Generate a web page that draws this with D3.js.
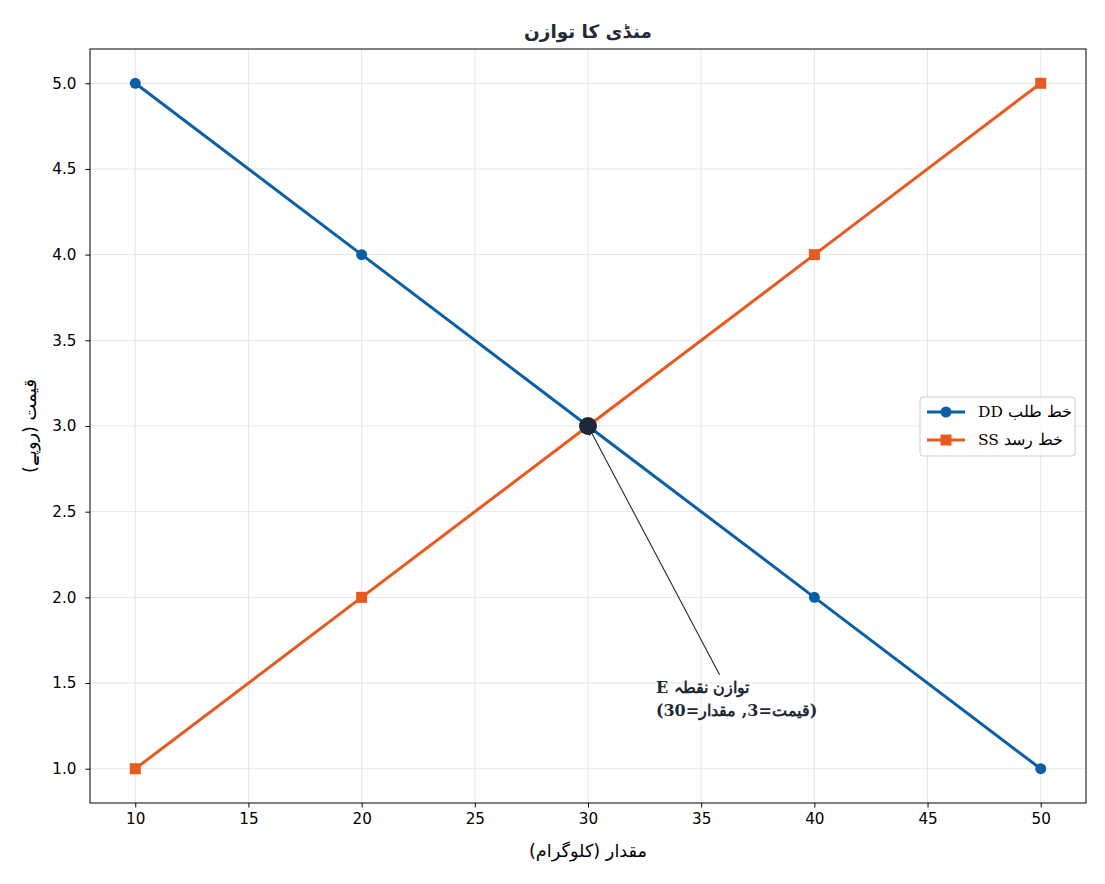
<!DOCTYPE html>
<html><head><meta charset="utf-8">
<script src="https://cdn.jsdelivr.net/npm/d3@7"></script>
<style>
body{margin:0;background:#fff;}
svg{display:block;}
</style></head>
<body>
<svg id="chart" width="1105" height="884"></svg>
<script>
const quantity = [10, 20, 30, 40, 50];
const demandPrice = [5, 4, 3, 2, 1];
const supplyPrice = [1, 2, 3, 4, 5];
const equilibriumQ = 30, equilibriumP = 3;
const xTicks = [10, 15, 20, 25, 30, 35, 40, 45, 50];
const yTicks = [1.0, 1.5, 2.0, 2.5, 3.0, 3.5, 4.0, 4.5, 5.0];
const titleText = "منڈی کا توازن";
const xLabelText = "مقدار (کلوگرام)";
const yLabelText = "قیمت (روپے)";
const demandLabel = "خط طلب DD";
const supplyLabel = "خط رسد SS";
const annLine1 = "توازن نقطہ E";
const annLine2 = "(قیمت=3, مقدار=30)";
const annXY = [33, 1.4];

const W = 1105, H = 884;
const m = {left: 90, right: 1086, top: 49, bottom: 803};
const svg = d3.select("#chart");
const x = d3.scaleLinear().domain([8, 52]).range([m.left, m.right]);
const y = d3.scaleLinear().domain([0.8, 5.2]).range([m.bottom, m.top]);

const blue = "#0b5fa5", orange = "#e8591f", dark = "#1e2838";

// right-to-left text placed by its left edge (uses middle anchor, which is direction-neutral)
function rtlText(parent, s, leftX, py, style) {
  const t = parent.append("text").attr("y", py).attr("direction", "rtl")
    .style("direction", "rtl").style("unicode-bidi", "embed").text(s);
  Object.entries(style).forEach(([k, v]) => t.attr(k, v));
  const w = t.node().getComputedTextLength();
  t.attr("text-anchor", "middle").attr("x", leftX + w / 2);
  return t;
}
function rtlCentered(parent, s, cx, py, style) {
  const t = parent.append("text").attr("x", cx).attr("y", py).attr("text-anchor", "middle")
    .attr("direction", "rtl").style("direction", "rtl").style("unicode-bidi", "embed").text(s);
  Object.entries(style).forEach(([k, v]) => t.attr(k, v));
  return t;
}

// grid
svg.append("g").selectAll("line").data(xTicks).join("line")
  .attr("x1", d => x(d)).attr("x2", d => x(d)).attr("y1", m.top).attr("y2", m.bottom)
  .attr("stroke", "#e6e6e6").attr("stroke-width", 1);
svg.append("g").selectAll("line").data(yTicks).join("line")
  .attr("y1", d => y(d)).attr("y2", d => y(d)).attr("x1", m.left).attr("x2", m.right)
  .attr("stroke", "#e6e6e6").attr("stroke-width", 1);

// axes
const xAxis = svg.append("g").attr("transform", `translate(0,${m.bottom})`)
  .call(d3.axisBottom(x).tickValues(xTicks).tickFormat(d3.format("d")).tickSizeOuter(0).tickSize(4.5).tickPadding(6));
const yAxis = svg.append("g").attr("transform", `translate(${m.left},0)`)
  .call(d3.axisLeft(y).tickValues(yTicks).tickFormat(d3.format(".1f")).tickSizeOuter(0).tickSize(4.5).tickPadding(9));
[xAxis, yAxis].forEach(g => {
  g.select(".domain").remove();
  g.selectAll("text").attr("font-family", "DejaVu Sans").attr("font-size", 15.2).attr("fill", "#000");
  g.selectAll("line").attr("stroke", "#000");
});
svg.append("rect").attr("x", m.left).attr("y", m.top).attr("width", m.right - m.left).attr("height", m.bottom - m.top)
  .attr("fill", "none").attr("stroke", "#000").attr("stroke-width", 1);

// lines
const line = d3.line().x(d => x(d[0])).y(d => y(d[1]));
const demand = quantity.map((q, i) => [q, demandPrice[i]]);
const supply = quantity.map((q, i) => [q, supplyPrice[i]]);
svg.append("path").datum(demand).attr("d", line).attr("fill", "none").attr("stroke", blue).attr("stroke-width", 3);
svg.append("path").datum(supply).attr("d", line).attr("fill", "none").attr("stroke", orange).attr("stroke-width", 3);
svg.append("g").selectAll("circle").data(demand).join("circle")
  .attr("cx", d => x(d[0])).attr("cy", d => y(d[1])).attr("r", 5.5).attr("fill", blue);
svg.append("g").selectAll("rect").data(supply).join("rect")
  .attr("x", d => x(d[0]) - 5.5).attr("y", d => y(d[1]) - 5.5).attr("width", 11).attr("height", 11).attr("fill", orange);

// equilibrium point
svg.append("circle").attr("cx", x(equilibriumQ)).attr("cy", y(equilibriumP)).attr("r", 9).attr("fill", dark);

// annotation
const tx = x(annXY[0]), ty = y(annXY[1]);
const annStyle = {"font-family": "DejaVu Serif, serif", "font-weight": "bold", "font-size": 16, "fill": dark};
const annG = svg.append("g");
rtlText(annG, annLine1, tx, ty - 7.5, annStyle);
rtlText(annG, annLine2, tx, ty + 16, annStyle);
const bb = annG.node().getBBox();
const cx0 = bb.x + bb.width / 2 - 4, cy0 = bb.y + bb.height / 2;
const px = x(equilibriumQ), py = y(equilibriumP);
const sy = bb.y - 3;
const t = (cy0 - sy) / (cy0 - py);
const sx = cx0 + (px - cx0) * t;
const ang = Math.atan2(py - sy, px - sx);
const ex = px - Math.cos(ang) * 2, ey = py - Math.sin(ang) * 2;
svg.append("line").attr("x1", sx).attr("y1", sy).attr("x2", ex).attr("y2", ey).attr("stroke", dark).attr("stroke-width", 1.1);
const ah = 8, aw = 0.4;
svg.append("path").attr("d", `M${ex - ah * Math.cos(ang - aw)},${ey - ah * Math.sin(ang - aw)} L${ex},${ey} L${ex - ah * Math.cos(ang + aw)},${ey - ah * Math.sin(ang + aw)}`)
  .attr("fill", "none").attr("stroke", dark).attr("stroke-width", 1.1);

// title & labels
rtlCentered(svg, titleText, (m.left + m.right) / 2, 38,
  {"font-family": "DejaVu Sans", "font-weight": "bold", "font-size": 18.4, "fill": "#222a38"});
rtlCentered(svg, xLabelText, (m.left + m.right) / 2, 857,
  {"font-family": "DejaVu Sans", "font-size": 17.7, "fill": "#000"});
const yl = rtlCentered(svg, yLabelText, 0, 0, {"font-family": "DejaVu Sans", "font-size": 17.7, "fill": "#000"});
yl.attr("transform", `translate(36,${(m.top + m.bottom) / 2}) rotate(-90)`);

// legend
const lg = svg.append("g");
lg.append("rect").attr("x", 920).attr("y", 397).attr("width", 155).attr("height", 59).attr("rx", 3)
  .attr("fill", "#fff").attr("fill-opacity", 0.8).attr("stroke", "#ccc");
const items = [{label: demandLabel, color: blue, shape: "circle"}, {label: supplyLabel, color: orange, shape: "square"}];
items.forEach((it, i) => {
  const yy = 412 + i * 28;
  lg.append("line").attr("x1", 927).attr("x2", 965).attr("y1", yy).attr("y2", yy).attr("stroke", it.color).attr("stroke-width", 3);
  if (it.shape === "circle") lg.append("circle").attr("cx", 946).attr("cy", yy).attr("r", 5.5).attr("fill", it.color);
  else lg.append("rect").attr("x", 940.5).attr("y", yy - 5.5).attr("width", 11).attr("height", 11).attr("fill", it.color);
  rtlText(lg, it.label, 978, yy + 5, {"font-family": "DejaVu Serif, serif", "font-size": 15.5, "fill": "#000"});
});
</script>
</body></html>
